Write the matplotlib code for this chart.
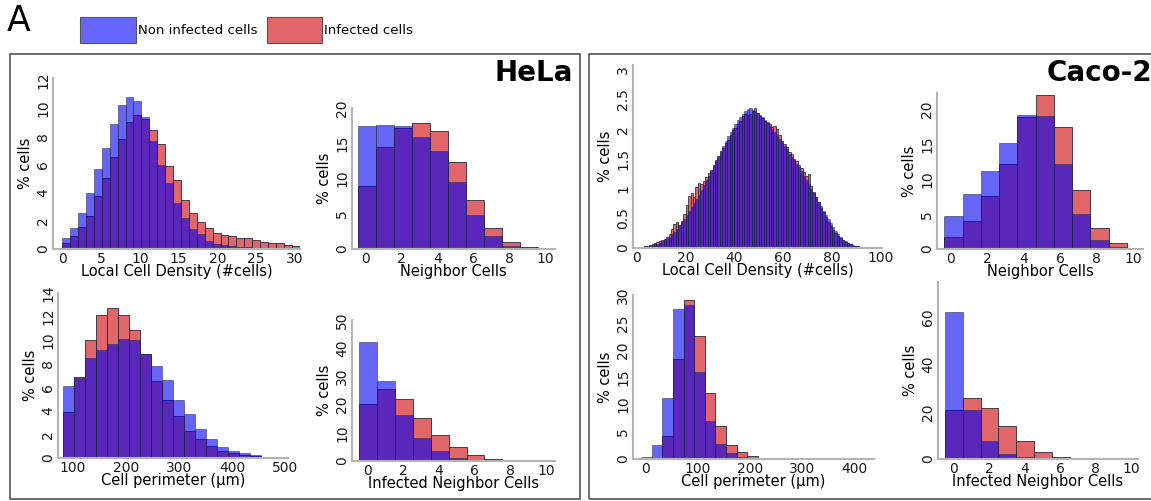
import numpy as np
import matplotlib
matplotlib.use('Agg')
import matplotlib.pyplot as plt
from matplotlib.patches import Rectangle
from matplotlib.ticker import FuncFormatter

#---------------------------------------------------------
# HeLa, % cells per bin (non infected / infected)
hela_density_non = [0.75, 1.5, 2.55, 4.0, 5.65, 7.15, 8.9, 10.2, 10.8, 10.5,
                    9.4, 7.7, 6.0, 4.7, 3.3, 2.2, 1.45, 1.05, 0.55, 0.35,
                    0.25, 0.2, 0.15, 0.12, 0.1, 0.08, 0.06, 0.05, 0.04, 0.03]
hela_density_inf = [0.4, 0.9, 1.55, 2.35, 3.8, 5.05, 6.55, 7.85, 9.05, 9.55,
                    9.25, 8.45, 7.45, 5.9, 4.9, 3.5, 2.55, 1.9, 1.5, 1.15,
                    1.0, 0.9, 0.8, 0.75, 0.62, 0.52, 0.45, 0.42, 0.25, 0.2]
hela_neigh_non = [17.4, 17.6, 17.4, 15.85, 13.9, 9.5, 4.85, 1.8, 0.4, 0.1, 0.03]
hela_neigh_inf = [9.0, 14.4, 17.1, 17.85, 16.75, 12.3, 7.0, 3.0, 1.0, 0.3, 0.05]
hela_perim_non = [6.15, 6.8, 8.5, 9.2, 9.65, 10.1, 10.05, 8.85, 7.8, 6.6,
                  4.95, 3.7, 2.45, 1.65, 0.95, 0.62, 0.45, 0.25, 0.12, 0.06]
hela_perim_inf = [3.9, 6.9, 10.0, 12.1, 12.7, 12.15, 10.9, 8.8, 6.5, 4.9,
                  3.6, 2.3, 1.6, 1.05, 0.62, 0.4, 0.25, 0.15, 0.08, 0.03]
hela_infn_non = [42.2, 28.5, 16.3, 8.1, 3.6, 1.2, 0.35, 0.1, 0.03, 0.01, 0.0]
hela_infn_inf = [20.1, 25.7, 21.9, 15.3, 9.3, 4.9, 2.15, 0.7, 0.25, 0.1, 0.05]

# Caco-2
caco_density_non = [0.02, 0.02, 0.02, 0.03, 0.03, 0.04, 0.05, 0.06, 0.07, 0.09,
                    0.11, 0.13, 0.16, 0.19, 0.23, 0.27, 0.32, 0.37, 0.43, 0.49,
                    0.55, 0.62, 0.69, 0.76, 0.83, 0.90, 0.98, 1.06, 1.14, 1.22,
                    1.30, 1.38, 1.46, 1.54, 1.62, 1.72, 1.80, 1.88, 1.95, 2.02,
                    2.08, 2.15, 2.20, 2.26, 2.30, 2.34, 2.35, 2.33, 2.30, 2.28,
                    2.24, 2.20, 2.16, 2.12, 2.06, 2.00, 1.95, 1.90, 1.84, 1.78,
                    1.72, 1.66, 1.58, 1.54, 1.48, 1.42, 1.36, 1.30, 1.22, 1.15,
                    1.08, 1.00, 0.92, 0.85, 0.78, 0.70, 0.63, 0.56, 0.49, 0.42,
                    0.35, 0.29, 0.23, 0.18, 0.14, 0.11, 0.08, 0.06, 0.05, 0.04,
                    0.03, 0.02, 0.015, 0.01, 0.005, 0.003]
caco_density_inf = [0.01, 0.01, 0.02, 0.03, 0.04, 0.05, 0.07, 0.09, 0.10, 0.11,
                    0.13, 0.15, 0.18, 0.24, 0.32, 0.40, 0.43, 0.38, 0.45, 0.58,
                    0.72, 0.88, 0.92, 0.85, 1.02, 1.10, 1.08, 1.12, 1.20, 1.26,
                    1.32, 1.40, 1.48, 1.55, 1.64, 1.68, 1.76, 1.82, 1.90, 1.98,
                    2.02, 2.08, 2.14, 2.22, 2.26, 2.24, 2.25, 2.30, 2.36, 2.28,
                    2.22, 2.18, 2.14, 2.10, 2.08, 2.04, 2.06, 2.00, 1.90, 1.80,
                    1.75, 1.70, 1.62, 1.58, 1.50, 1.46, 1.40, 1.34, 1.28, 1.22,
                    1.25, 1.05, 0.95, 0.86, 0.78, 0.68, 0.60, 0.52, 0.44, 0.37,
                    0.30, 0.25, 0.20, 0.16, 0.13, 0.10, 0.08, 0.06, 0.04, 0.03,
                    0.03, 0.02, 0.01, 0.01, 0.005, 0.003]
caco_neigh_non = [4.8, 7.95, 11.25, 15.2, 19.2, 19.15, 12.25, 5.0, 1.35, 0.3, 0.05]
caco_neigh_inf = [1.7, 4.05, 7.55, 12.25, 18.9, 22.15, 17.5, 8.5, 3.0, 0.85, 0.15]
caco_perim_non = [0.3, 2.5, 11.15, 27.6, 28.2, 16.0, 7.0, 2.8, 1.1, 0.45, 0.2, 0.1, 0.05]
caco_perim_inf = [0.1, 0.25, 4.15, 18.35, 29.1, 22.55, 12.1, 6.1, 2.55, 1.2, 0.6, 0.25, 0.12]
caco_infn_non = [62.1, 20.6, 7.75, 2.25, 0.7, 0.15, 0.05, 0.02, 0.0, 0.0, 0.0]
caco_infn_inf = [20.6, 25.8, 21.8, 14.1, 7.45, 2.95, 1.0, 0.4, 0.15, 0.05, 0.02]

#---------------------------------------------------------
W, H = 1151, 501
RED  = '#e0666a'
BLUE = '#0000f0'
EDGE = '#2a2a3a'

fig = plt.figure(figsize=(W/100.0, H/100.0), dpi=100)

def px_axes(l, t, r, b):
	# pixel box (left, top, right, bottom) -> figure axes
	return fig.add_axes([l/float(W), 1-b/float(H), (r-l)/float(W), (b-t)/float(H)])

def hist_panel(box, start, width, non, inf, xlim, ylim, xticks, yticks, xlabel, lw=0.6):
	ax = px_axes(*box)
	left = start + width*np.arange(len(non))
	ax.bar(left, inf, width, align='edge', color=RED, edgecolor=EDGE, linewidth=lw)
	ax.bar(left, non, width, align='edge', color=BLUE, alpha=0.6, edgecolor=EDGE, linewidth=lw)
	ax.set_xlim(xlim)
	ax.set_ylim(ylim)
	ax.set_xticks(xticks)
	ax.set_yticks(yticks)
	ax.yaxis.set_major_formatter(FuncFormatter(lambda v, p: '%g' % v))
	for s in ['top', 'right']:
		ax.spines[s].set_visible(False)
	for s in ['left', 'bottom']:
		ax.spines[s].set_color('#b4b4b4')
		ax.spines[s].set_linewidth(1.5)
	ax.tick_params(length=0, labelsize=10, pad=2, colors='#1a1a1a')
	for lab in ax.get_yticklabels():
		lab.set_rotation(90)
		lab.set_va('center')
	ax.set_xlabel(xlabel, fontsize=10.5, labelpad=-1)
	ax.set_ylabel('% cells', fontsize=10.5, labelpad=2)
	return ax

# HeLa
hist_panel((53, 78, 300, 249), 0, 1.02, hela_density_non, hela_density_inf,
	(-1.2, 30.65), (0, 12.15), range(0, 31, 5), range(0, 13, 2), 'Local Cell Density (#cells)')
hist_panel((352, 108, 555, 249), -0.4, 1.0, hela_neigh_non, hela_neigh_inf,
	(-0.74, 10.54), (0, 20), range(0, 11, 2), range(0, 21, 5), 'Neighbor Cells')
hist_panel((58, 293, 288, 458), 81, 20.75, hela_perim_non, hela_perim_inf,
	(72, 505), (0, 14), range(100, 501, 100), range(0, 15, 2), u'Cell perimeter (\u03bcm)')
hist_panel((352, 320, 555, 461), -0.45, 1.0, hela_infn_non, hela_infn_inf,
	(-0.86, 10.5), (0, 50), range(0, 11, 2), range(0, 51, 10), 'Infected Neighbor Cells')

# Caco-2
hist_panel((633, 65, 882, 248), 0, 1.0, caco_density_non, caco_density_inf,
	(-1.6, 100.5), (0, 3.08), range(0, 101, 20), np.arange(0, 3.01, 0.5), 'Local Cell Density (#cells)', lw=0.55)
hist_panel((937, 93, 1143, 249), -0.35, 1.0, caco_neigh_non, caco_neigh_inf,
	(-0.75, 10.53), (0, 22.4), range(0, 11, 2), range(0, 21, 5), 'Neighbor Cells')
hist_panel((633, 295, 874, 459), -9, 20.4, caco_perim_non, caco_perim_inf,
	(-24, 437), (0, 30.1), range(0, 401, 100), range(0, 31, 5), u'Cell perimeter (\u03bcm)')
hist_panel((938, 282, 1138, 459), -0.47, 1.0, caco_infn_non, caco_infn_inf,
	(-0.86, 10.36), (0, 75), range(0, 11, 2), range(0, 61, 20), 'Infected Neighbor Cells')

#---------------------------------------------------------
# panel frames, titles, legend
for x0, x1 in [(10, 580), (589, 1170)]:
	fig.patches.append(Rectangle((x0/float(W), 1-499/float(H)), (x1-x0)/float(W), (499-54)/float(H),
		transform=fig.transFigure, fill=False, edgecolor='#555555', linewidth=1.2))

fig.text(573/float(W), 1-73/float(H), 'HeLa', fontsize=20, fontweight='bold', ha='right', va='center')
fig.text(1152/float(W), 1-73/float(H), 'Caco-2', fontsize=20, fontweight='bold', ha='right', va='center')
fig.text(7/float(W), 1-21/float(H), 'A', fontsize=25, ha='left', va='center')

fig.patches.append(Rectangle((80/float(W), 1-43/float(H)), 56/float(W), 26/float(H),
	transform=fig.transFigure, facecolor='#6666ff', edgecolor='#555555', linewidth=0.8))
fig.text(138/float(W), 1-31/float(H), 'Non infected cells', fontsize=9.5, ha='left', va='center')
fig.patches.append(Rectangle((267/float(W), 1-43/float(H)), 55/float(W), 26/float(H),
	transform=fig.transFigure, facecolor=RED, edgecolor='#555555', linewidth=0.8))
fig.text(324/float(W), 1-31/float(H), 'Infected cells', fontsize=9.5, ha='left', va='center')

fig.savefig('out.png', dpi=100)
